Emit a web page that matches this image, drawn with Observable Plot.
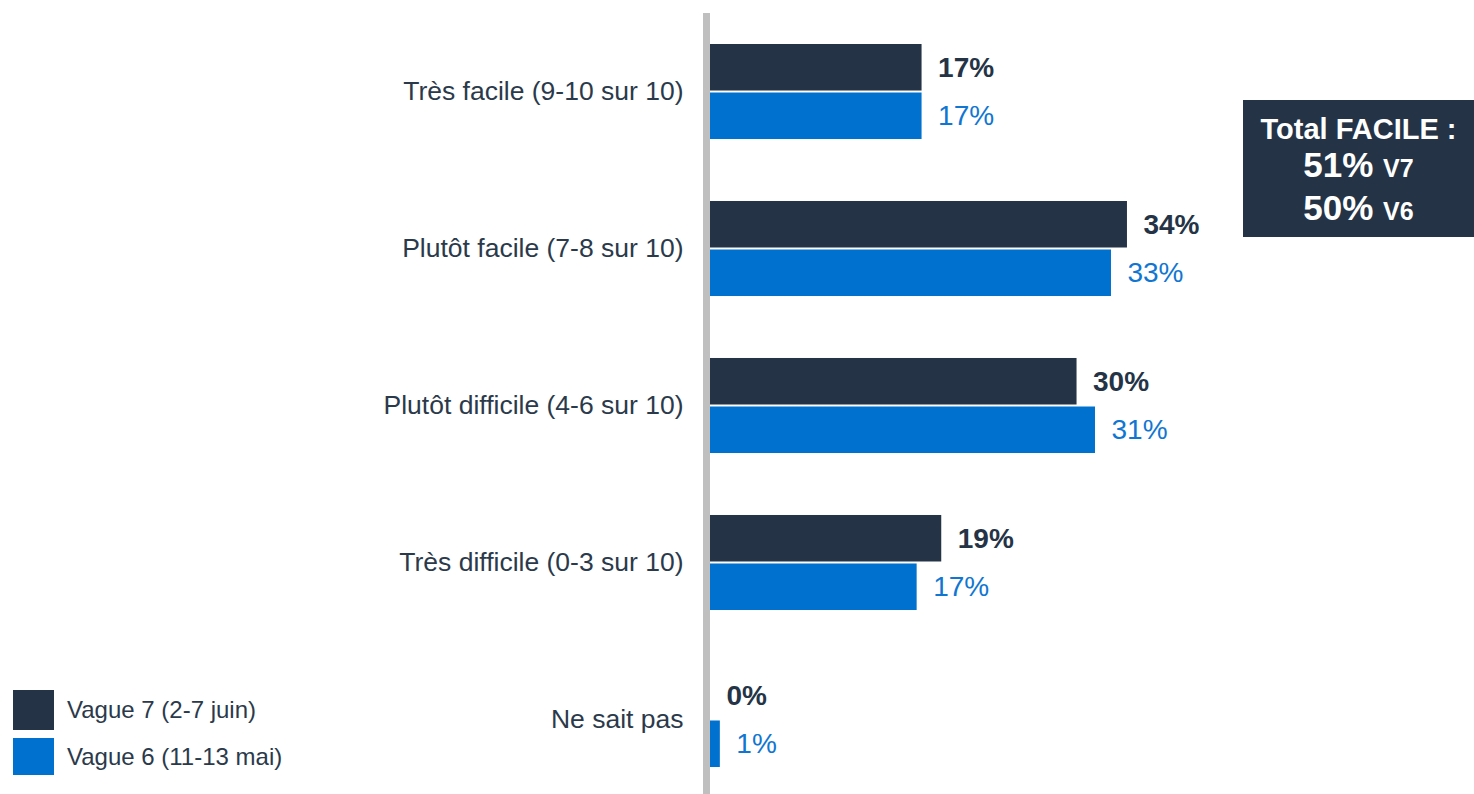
<!DOCTYPE html>
<html>
<head>
<meta charset="utf-8">
<script src="https://cdn.jsdelivr.net/npm/d3@7"></script>
<script src="https://cdn.jsdelivr.net/npm/@observablehq/plot@0.6"></script>
<style>
  html, body { margin: 0; padding: 0; background: #fff; }
  #wrap { position: relative; width: 1474px; height: 794px; overflow: hidden; font-family: "Liberation Sans", Arial, sans-serif; }
  #legend { position: absolute; left: 13px; top: 690px; }
  .leg-row { display: flex; align-items: center; margin-bottom: 8px; }
  .leg-sw { width: 41px; margin-right: 13px; }
  .leg-tx { font-size: 24px; color: #2b3a4b; white-space: nowrap; }
  #box { position: absolute; left: 1243px; top: 100px; width: 231px; height: 137px; background: #243446; color: #fff; font-weight: bold; text-align: center; }
  #box .t { font-size: 29px; margin-top: 13px; line-height: 32px; }
  #box .v { font-size: 35px; line-height: 40px; }
  #box .v span { font-size: 25px; }
</style>
</head>
<body>
<div id="wrap"></div>
<script>
// ---- Data ----
const categories = [
  "Très facile (9-10 sur 10)",
  "Plutôt facile (7-8 sur 10)",
  "Plutôt difficile (4-6 sur 10)",
  "Très difficile (0-3 sur 10)",
  "Ne sait pas"
];
const series = ["Vague 7 (2-7 juin)", "Vague 6 (11-13 mai)"];
const vague7 = [17.2, 33.9, 29.8, 18.8, 0];
const vague6 = [17.2, 32.6, 31.3, 16.8, 0.8];
const totalLabel = "Total FACILE :";
const totalWaves = ["V7", "V6"];
const totalValues = [51, 50];

// ---- Styles ----
const dark = "#243446";
const blue = "#0071CE";
const blueText = "#1076D2";
const textColor = "#2b3a4b";

const rows = categories.flatMap((c, i) => [
  {cat: c, serie: series[0], value: vague7[i]},
  {cat: c, serie: series[1], value: vague6[i]}
]);

const chart = Plot.plot({
  width: 1474,
  height: 794,
  marginLeft: 710,
  marginRight: 26,
  marginTop: 43,
  marginBottom: 26,
  facet: {marginTop: 0, marginBottom: 0, marginLeft: 0, marginRight: 0},
  x: {domain: [0, 60], axis: null},
  y: {domain: series, axis: null, padding: 0, round: false},
  fy: {domain: categories, range: [43, 768], paddingInner: 0.382, paddingOuter: 0, round: false, label: null, tickSize: 0, tickPadding: 27},
  color: {domain: series, range: [dark, blue]},
  style: {fontFamily: "'Liberation Sans', Arial, sans-serif", fontSize: "26.5px", color: textColor, background: "transparent", overflow: "visible"},
  marks: [
    Plot.barX(rows, {x: "value", y: "serie", fy: "cat", fill: "serie", insetTop: 1, insetBottom: 1}),
    Plot.ruleX([0], {stroke: "#bfbfbf", strokeWidth: 7, dx: -4, insetTop: -30, insetBottom: -30}),
    Plot.text(rows.filter(d => d.serie === series[0]), {
      x: "value", y: "serie", fy: "cat", text: d => Math.round(d.value) + "%",
      dx: 16, textAnchor: "start", fill: dark, fontWeight: "bold", fontSize: 28
    }),
    Plot.text(rows.filter(d => d.serie === series[1]), {
      x: "value", y: "serie", fy: "cat", text: d => Math.round(d.value) + "%",
      dx: 16, textAnchor: "start", fill: blueText, fontSize: 28
    })
  ]
});

const wrap = document.getElementById("wrap");
wrap.appendChild(chart);

// Legend
const legend = document.createElement("div");
legend.id = "legend";
series.forEach((s, i) => {
  const row = document.createElement("div");
  row.className = "leg-row";
  const sw = document.createElement("div");
  sw.className = "leg-sw";
  sw.style.background = [dark, blue][i];
  sw.style.height = [40, 37][i] + "px";
  const tx = document.createElement("div");
  tx.className = "leg-tx";
  tx.textContent = s;
  row.appendChild(sw);
  row.appendChild(tx);
  legend.appendChild(row);
});
wrap.appendChild(legend);

// Total box
const box = document.createElement("div");
box.id = "box";
const t = document.createElement("div");
t.className = "t";
t.textContent = totalLabel;
box.appendChild(t);
totalValues.forEach((v, i) => {
  const line = document.createElement("div");
  line.className = "v";
  line.innerHTML = v + "% <span>" + totalWaves[i] + "</span>";
  box.appendChild(line);
});
wrap.appendChild(box);
</script>
</body>
</html>
